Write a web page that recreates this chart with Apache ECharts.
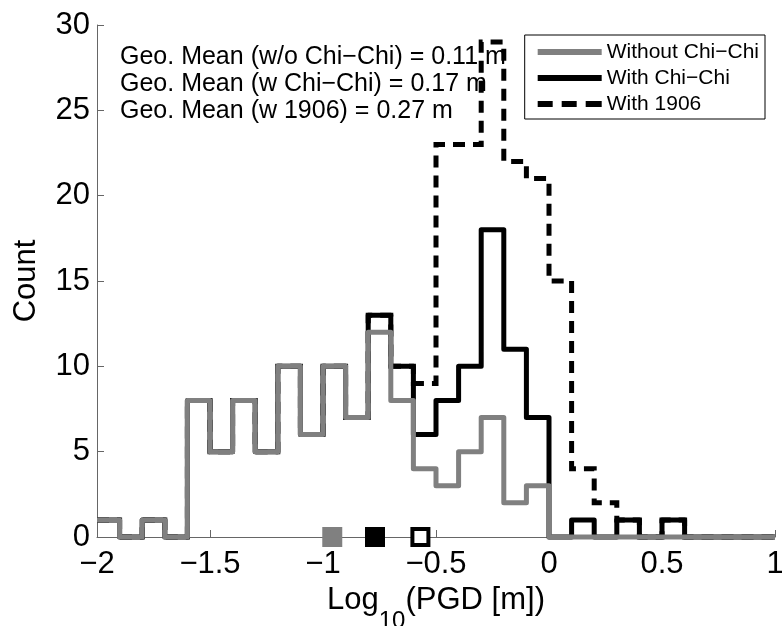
<!DOCTYPE html>
<html>
<head>
<meta charset="utf-8">
<script src="https://cdn.jsdelivr.net/npm/echarts@6/dist/echarts.min.js"></script>
<style>
  html, body { margin: 0; padding: 0; background: #fff; }
  #pgd-chart { width: 782px; height: 626px; }
</style>
</head>
<body>
<div id="pgd-chart"></div>
<script>
// bin left edges, log10(PGD [m]); last entry closes the stairs at x = 1
const binEdges = [-2.0, -1.9, -1.8, -1.7, -1.6, -1.5, -1.4, -1.3, -1.2, -1.1,
  -1.0, -0.9, -0.8, -0.7, -0.6, -0.5, -0.4, -0.3, -0.2, -0.1,
  0.0, 0.1, 0.2, 0.3, 0.4, 0.5, 0.6, 0.7, 0.8, 0.9, 1.0];

const withoutChiChi = [1, 0, 1, 0, 8, 5, 8, 5, 10, 6,
  10, 7, 12, 8, 4, 3, 5, 7, 2, 3,
  0, 0, 0, 0, 0, 0, 0, 0, 0, 0, 0];
const withChiChi = [1, 0, 1, 0, 8, 5, 8, 5, 10, 6,
  10, 7, 13, 10, 6, 8, 10, 18, 11, 7,
  0, 1, 0, 1, 0, 1, 0, 0, 0, 0, 0];
const with1906 = [1, 0, 1, 0, 8, 5, 8, 5, 10, 6,
  10, 7, 13, 10, 9, 23, 23, 29, 22, 21,
  15, 4, 2, 1, 0, 1, 0, 0, 0, 0, 0];

// geometric means (log10 of 0.11, 0.17, 0.27 m)
const geoMeans = [-0.959, -0.770, -0.569];
const meanNotes = [
  'Geo. Mean (w/o Chi\u2212Chi) = 0.11 m',
  'Geo. Mean (w Chi\u2212Chi) = 0.17 m',
  'Geo. Mean (w 1906) = 0.27 m'
];

const FONT = '"Liberation Sans", Arial, Helvetica, sans-serif';
const DASH_ICON = 'path://M0,0h15v6h-15z M24,0h15v6h-15z M48,0h16v6h-16z';

function pairs (ys) {
  return binEdges.map((x, i) => [x, ys[i]]);
}

function minusSign (v) {
  return String(v).replace('-', '\u2212');
}

let chart = echarts.init(document.getElementById('pgd-chart'));
chart.setOption({
  animation: false,
  backgroundColor: '#fff',
  textStyle: { fontFamily: FONT },
  grid: { left: 97, right: 7, top: 25, bottom: 89, containLabel: false, outerBoundsMode: 'none' },
  legend: {
    data: [
      { name: 'Without Chi\u2212Chi', icon: 'rect' },
      { name: 'With Chi\u2212Chi', icon: 'rect' },
      { name: 'With 1906', icon: DASH_ICON }
    ],
    orient: 'vertical',
    right: 17,
    top: 35,
    padding: [6, 6, 4, 13],
    itemWidth: 64,
    itemHeight: 6,
    itemGap: 4,
    backgroundColor: '#fff',
    borderColor: '#000',
    borderWidth: 1,
    borderRadius: 0,
    textStyle: { fontSize: 21, color: '#000', fontFamily: FONT, lineHeight: 22 }
  },
  xAxis: {
    type: 'value',
    min: -2,
    max: 1,
    interval: 0.5,
    name: '{a|Log}{s|10}{a|(PGD [m])}',
    nameLocation: 'middle',
    nameGap: 24,
    nameTextStyle: {
      rich: {
        a: { fontSize: 31, color: '#000', fontFamily: FONT, lineHeight: 66 },
        s: { fontSize: 24, color: '#000', fontFamily: FONT, lineHeight: 66, verticalAlign: 'bottom' }
      }
    },
    axisLine: { lineStyle: { color: '#666', width: 1 } },
    axisTick: { inside: true, length: 7, lineStyle: { color: '#666' } },
    splitLine: { show: false },
    axisLabel: {
      fontSize: 31,
      color: '#000',
      margin: 12,
      formatter: minusSign
    }
  },
  yAxis: {
    type: 'value',
    min: 0,
    max: 30,
    interval: 5,
    name: 'Count',
    nameLocation: 'middle',
    nameRotate: 90,
    nameGap: 55,
    nameTextStyle: { fontSize: 31, color: '#000' },
    axisLine: { show: true, onZero: false, lineStyle: { color: '#666', width: 1 } },
    axisTick: { show: true, inside: true, length: 7, lineStyle: { color: '#666' } },
    splitLine: { show: false },
    axisLabel: { fontSize: 31, color: '#000', margin: 7 }
  },
  graphic: [{
    type: 'text',
    left: 120,
    top: 44,
    style: {
      text: meanNotes.join('\n'),
      font: '25px ' + FONT,
      lineHeight: 27,
      fill: '#000'
    }
  }],
  series: [
    {
      name: 'With 1906',
      type: 'line',
      step: 'end',
      symbol: 'none',
      clip: false,
      data: pairs(with1906),
      lineStyle: { color: '#000', width: 5, type: [12, 8], cap: 'butt', join: 'miter' },
      itemStyle: { color: '#000' },
      z: 2
    },
    {
      name: 'With Chi\u2212Chi',
      type: 'line',
      step: 'end',
      symbol: 'none',
      clip: false,
      data: pairs(withChiChi),
      lineStyle: { color: '#000', width: 5, join: 'round' },
      itemStyle: { color: '#000' },
      z: 3
    },
    {
      name: 'Without Chi\u2212Chi',
      type: 'line',
      step: 'end',
      symbol: 'none',
      clip: false,
      data: pairs(withoutChiChi),
      lineStyle: { color: '#808080', width: 5, join: 'round' },
      itemStyle: { color: '#808080' },
      z: 4
    },
    {
      type: 'scatter',
      symbol: 'rect',
      symbolSize: 20,
      clip: false,
      z: 5,
      data: [
        { value: [geoMeans[0], 0], itemStyle: { color: '#808080', opacity: 1 } },
        { value: [geoMeans[1], 0], itemStyle: { color: '#000', opacity: 1 } },
        { value: [geoMeans[2], 0], symbolSize: 16, itemStyle: { color: '#fff', borderColor: '#000', borderWidth: 4, opacity: 1 } }
      ]
    }
  ]
});
window.addEventListener('resize', () => { chart.resize(); });
</script>
</body>
</html>
